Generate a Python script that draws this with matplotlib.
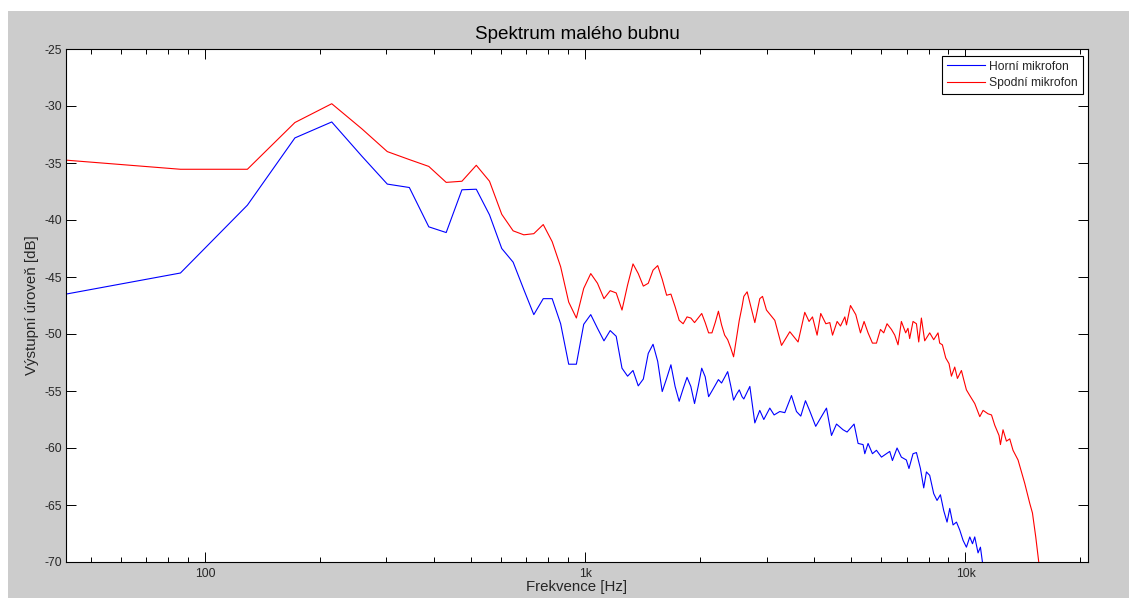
import numpy as np
import matplotlib
matplotlib.use("Agg")
import matplotlib.pyplot as plt
from matplotlib.patches import Rectangle
from matplotlib.ticker import FixedLocator, FixedFormatter, LogLocator, NullFormatter

plt.rcParams['font.family'] = ['Liberation Sans', 'DejaVu Sans']
plt.rcParams['axes.unicode_minus'] = False

# ---------------- text ----------------
title = "Spektrum malého bubnu"
xlabel = "Frekvence [Hz]"
ylabel = "Výstupní úroveň [dB]"
series_names = ["Horní mikrofon", "Spodní mikrofon"]
x_ticks = [100, 1000, 10000]
x_tick_labels = ["100", "1k", "10k"]
y_ticks = [-70, -65, -60, -55, -50, -45, -40, -35, -30, -25]
y_tick_labels = ["-70", "-65", "-60", "-55", "-50", "-45", "-40", "-35", "-30", "-25"]
x_limits = [43.07, 21000]
y_limits = [-70, -25]

# ---------------- data ----------------
# FFT bins (44.1 kHz / 1024) for the low part of the spectrum
bin_hz = 44100 / 1024
freq_bins = bin_hz * np.arange(1, 61)

horni_low = [-46.5, -44.65, -38.7, -32.8, -31.4, -34.4, -36.85, -37.15, -40.6, -41.1,
             -37.35, -37.3, -39.55, -42.5, -43.7, -46.1, -48.3, -46.9, -46.9, -49.1,
             -52.65, -52.65, -49.15, -48.3, -49.5, -50.6, -49.7, -50.2, -53.0, -53.7,
             -53.2, -54.55, -53.95, -51.7, -50.9, -52.4, -55.05, -53.9, -52.7, -54.6,
             -55.9, -54.8, -53.8, -54.6, -56.1, -54.6, -53.0, -53.75, -55.5, -55.0,
             -54.5, -54.0, -54.3, -53.8, -53.3, -54.5, -55.8, -55.3, -54.9, -55.5]

spodni_low = [-34.75, -35.55, -35.55, -31.45, -29.8, -32.0, -34.0, -34.7, -35.3, -36.7,
              -36.6, -35.2, -36.6, -39.5, -40.95, -41.3, -41.2, -40.4, -41.9, -44.1,
              -47.2, -48.6, -46.0, -44.7, -45.55, -46.9, -46.2, -46.4, -47.9, -45.7,
              -43.85, -44.7, -45.8, -45.55, -44.4, -44.0, -45.2, -46.6, -46.5, -47.6,
              -48.8, -49.1, -48.5, -48.6, -49.0, -48.6, -48.2, -49.0, -49.9, -49.9,
              -49.0, -48.0, -49.2, -50.1, -50.5, -51.2, -52.0, -50.4, -48.8, -47.6]

# high part of the spectrum (dense bins, read as visible vertices)
horni_hi_freq = [2612, 2709, 2792, 2877, 2948, 3057, 3138, 3248, 3348, 3486,
                 3593, 3688, 3794, 3894, 4037, 4179, 4309, 4442, 4579, 4764,
                 4881, 5093, 5218, 5378, 5434, 5543, 5692, 5832, 6012, 6195,
                 6321, 6424, 6607, 6782, 6990, 7101, 7278, 7430, 7612, 7765,
                 7893, 8051, 8249, 8417, 8591, 8766, 8943, 9091, 9275, 9469,
                 9659, 9854, 10056, 10264, 10433, 10576, 10790, 10947, 11080, 11236]
horni_hi = [-55.7, -54.6, -57.8, -56.7, -57.5, -56.5, -57.1, -56.8, -56.9, -55.4,
            -56.8, -57.2, -55.85, -56.75, -58.1, -57.25, -56.5, -58.9, -57.9, -58.4,
            -58.6, -57.9, -59.6, -59.7, -60.5, -59.6, -60.5, -60.2, -60.8, -60.5,
            -60.3, -61.1, -60.0, -60.8, -61.05, -61.8, -60.5, -60.4, -61.8, -63.5,
            -62.1, -62.4, -64.0, -64.6, -64.1, -65.5, -66.5, -65.3, -66.75, -66.5,
            -67.2, -68.1, -68.7, -67.8, -68.4, -67.8, -69.2, -68.7, -70.0, -70.6]

spodni_hi_freq = [2612, 2665, 2792, 2877, 2925, 2996, 3151, 3282, 3451, 3628,
                  3778, 3878, 3959, 4071, 4162, 4292, 4397, 4470, 4596, 4691,
                  4816, 4864, 4983, 5146, 5294, 5411, 5543, 5692, 5832, 5975,
                  6095, 6218, 6386, 6516, 6646, 6782, 6961, 7058, 7131, 7278,
                  7430, 7534, 7656, 7811, 8051, 8249, 8467, 8553, 8694, 8872,
                  9051, 9183, 9369, 9524, 9757, 9893, 10056, 10264, 10576, 10904,
                  11125, 11463, 11706, 11938, 12252, 12357, 12552, 12815, 13074, 13335,
                  13747, 14032, 14316, 14757, 15001, 15303, 15584, 15677]
spodni_hi = [-46.7, -46.3, -49.0, -46.9, -46.7, -47.9, -48.8, -51.0, -49.8, -50.7,
             -48.1, -48.9, -48.5, -50.1, -48.2, -49.1, -49.0, -50.1, -48.9, -49.3,
             -48.5, -49.2, -47.5, -48.3, -49.9, -48.9, -49.9, -50.8, -50.8, -49.6,
             -49.9, -49.1, -49.6, -50.1, -50.95, -48.9, -49.9, -49.5, -50.4, -48.9,
             -49.1, -50.7, -48.6, -50.6, -49.9, -50.5, -49.9, -50.8, -50.95, -52.1,
             -52.6, -53.7, -52.9, -53.9, -53.2, -54.0, -54.9, -55.4, -56.1, -57.25,
             -56.7, -57.0, -57.1, -58.0, -58.9, -59.7, -58.4, -59.4, -59.2, -60.2,
             -61.05, -62.1, -63.1, -64.85, -65.7, -67.8, -70.0, -70.6]

horni_freq = np.concatenate([freq_bins, horni_hi_freq])
horni_vals = np.concatenate([horni_low, horni_hi])
spodni_freq = np.concatenate([freq_bins, spodni_hi_freq])
spodni_vals = np.concatenate([spodni_low, spodni_hi])

# ---------------- figure ----------------
W, H = 1129, 599
fig = plt.figure(figsize=(W / 100, H / 100), dpi=100)
fig.patch.set_facecolor('white')
fig.patches.append(Rectangle((8 / W, 1 - 598 / H), (W - 8) / W, (598 - 11) / H,
                             transform=fig.transFigure, facecolor='#cccccc',
                             edgecolor='none', zorder=-10))

ax = fig.add_axes([66 / W, 1 - 562 / H, (1088 - 66) / W, (562 - 49) / H])
ax.set_facecolor('white')

ax.plot(horni_freq, horni_vals, color=(0, 0, 1), lw=0.8, label=series_names[0])
ax.plot(spodni_freq, spodni_vals, color=(1, 0, 0), lw=0.8, label=series_names[1])

ax.set_xscale('log')
ax.set_xlim(*x_limits)
ax.set_ylim(*y_limits)

ax.xaxis.set_major_locator(FixedLocator(x_ticks))
ax.xaxis.set_major_formatter(FixedFormatter(x_tick_labels))
ax.xaxis.set_minor_locator(LogLocator(base=10, subs=np.arange(2, 10)))
ax.xaxis.set_minor_formatter(NullFormatter())
ax.yaxis.set_major_locator(FixedLocator(y_ticks))
ax.yaxis.set_major_formatter(FixedFormatter(y_tick_labels))

tick_color = '#262626'
ax.tick_params(which='both', direction='in', top=True, right=True, colors='black',
               labelcolor=tick_color, labelsize=8.7, width=0.7)
ax.tick_params(which='major', length=7.2)
ax.tick_params(which='minor', length=3.6)
ax.tick_params(axis='y', pad=3)
ax.tick_params(axis='x', pad=4)
for s in ax.spines.values():
    s.set_color('black')
    s.set_linewidth(0.8)

ax.set_title(title, fontsize=13.6, pad=7, color='black')
ax.set_xlabel(xlabel, fontsize=10.8, color=tick_color)
ax.xaxis.set_label_coords(0.5, -0.036)
ax.set_ylabel(ylabel, fontsize=10.8, color=tick_color)
ax.yaxis.set_label_coords(-0.0264, 0.5)

leg = ax.legend(loc='upper right', bbox_to_anchor=(1 - 5.3 / 1022, 1 - 6.7 / 513),
                borderaxespad=0, fancybox=False, edgecolor='black', framealpha=1,
                fontsize=8.7, handlelength=3.15, handletextpad=0.37,
                borderpad=0.4, labelspacing=0.37)
leg.get_frame().set_linewidth(0.8)
for t in leg.get_texts():
    t.set_color(tick_color)

fig.savefig('out.png', dpi=100, facecolor=fig.get_facecolor())
